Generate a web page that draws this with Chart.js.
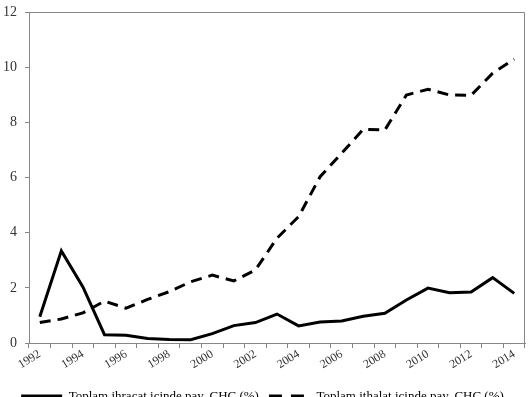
<!DOCTYPE html>
<html>
<head>
<meta charset="utf-8">
<script src="https://cdn.jsdelivr.net/npm/chart.js@4/dist/chart.umd.min.js"></script>
<style>
html,body{margin:0;padding:0;background:#fff;overflow:hidden;width:530px;height:397px;}
canvas{display:block;}
</style>
</head>
<body>
<canvas id="c" width="530" height="413" style="width:530px;height:413px"></canvas>
<script>
const years = ['1992','1993','1994','1995','1996','1997','1998','1999','2000','2001','2002','2003','2004','2005','2006','2007','2008','2009','2010','2011','2012','2013','2014'];
const exportShare = [0.95, 3.34, 2.03, 0.30, 0.28, 0.16, 0.13, 0.12, 0.34, 0.63, 0.74, 1.05, 0.62, 0.76, 0.80, 0.97, 1.08, 1.56, 1.99, 1.82, 1.85, 2.37, 1.80];
const importShare = [0.74, 0.87, 1.09, 1.52, 1.26, 1.58, 1.86, 2.22, 2.46, 2.25, 2.65, 3.80, 4.58, 6.03, 6.88, 7.75, 7.72, 8.99, 9.20, 8.99, 8.98, 9.78, 10.29];
const yTicks = [0, 2, 4, 6, 8, 10, 12];
const seriesNames = ['Toplam ihracat içinde pay, ÇHC (%)', 'Toplam ithalat içinde pay, ÇHC (%)'];

const FONT = '"Liberation Serif", "Times New Roman", serif';
const AXIS = '#868686';

const boxPlugin = {
  id: 'plotBox',
  afterDraw(chart) {
    const a = chart.chartArea, ctx = chart.ctx;
    ctx.save();
    ctx.strokeStyle = AXIS;
    ctx.lineWidth = 1;
    ctx.beginPath();
    ctx.moveTo(a.left, a.top + 0.5);
    ctx.lineTo(a.right - 0.5, a.top + 0.5);
    ctx.lineTo(a.right - 0.5, a.bottom);
    ctx.stroke();
    ctx.restore();
  }
};

new Chart(document.getElementById('c'), {
  type: 'line',
  data: {
    labels: years,
    datasets: [
      { label: seriesNames[0], data: exportShare, borderColor: '#000', backgroundColor: '#000', borderWidth: 3, pointRadius: 0, tension: 0, borderJoinStyle: 'miter' },
      { label: seriesNames[1], data: importShare, borderColor: '#000', backgroundColor: '#000', borderWidth: 3, borderDash: [11, 7], pointRadius: 0, tension: 0 }
    ]
  },
  options: {
    responsive: false,
    devicePixelRatio: 1,
    animation: false,
    layout: { padding: { top: 12, right: 5, left: 0, bottom: 0 } },
    plugins: {
      tooltip: { enabled: false },
      legend: {
        position: 'bottom',
        labels: {
          usePointStyle: true,
          pointStyle: 'line',
          pointStyleWidth: 41,
          color: '#000',
          padding: 10,
          font: { family: FONT, size: 13 },
          generateLabels(chart) {
            return chart.data.datasets.map((ds, i) => ({
              text: ds.label,
              datasetIndex: i,
              fillStyle: '#000',
              strokeStyle: '#000',
              fontColor: '#000',
              lineWidth: 4,
              lineDash: ds.borderDash ? [13, 9] : [],
              pointStyle: 'line',
              hidden: false
            }));
          }
        }
      }
    },
    scales: {
      x: {
        offset: true,
        grid: { drawOnChartArea: false, drawTicks: true, tickLength: 5, color: AXIS, offset: true },
        border: { color: AXIS, width: 1 },
        ticks: {
          autoSkip: false, maxRotation: 32, minRotation: 32, color: '#333', padding: -1,
          font: { family: FONT, size: 12 },
          callback: function(v, i) { return i % 2 === 0 ? years[i] : ''; }
        },
        afterFit(s) { s.height = 37; }
      },
      y: {
        min: 0, max: 12,
        afterBuildTicks(s) { s.ticks = yTicks.map(v => ({ value: v })); },
        grid: { drawOnChartArea: false, drawTicks: true, tickLength: 4, color: AXIS },
        border: { color: AXIS, width: 1 },
        ticks: { color: '#333', padding: 8, font: { family: FONT, size: 14 } },
        afterFit(s) { s.width = 29; s.paddingTop = 0; s.paddingBottom = 0; }
      }
    }
  },
  plugins: [boxPlugin]
});
</script>
</body>
</html>
